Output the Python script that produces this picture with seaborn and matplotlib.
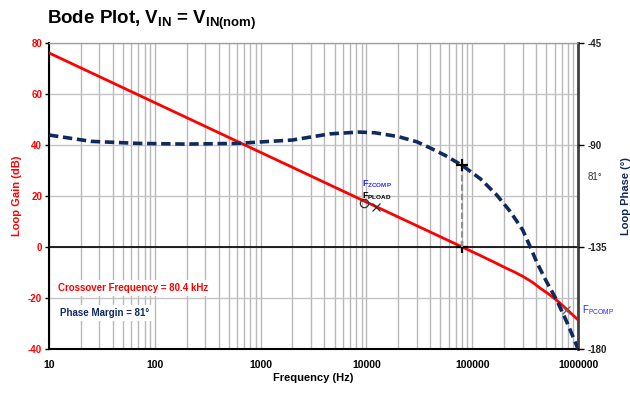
import matplotlib
matplotlib.use("Agg")
import matplotlib.pyplot as plt
import matplotlib.ticker as mticker
import numpy as np
import seaborn as sns

# values
gain_freq = [10, 100, 1000, 10000, 80400, 120000, 160000, 200000, 250000, 300000,
             370000, 440000, 530000, 630000, 800000, 1000000]
gain_db = [76.1, 56.6, 37.1, 17.6, 0.0, -3.4, -5.9, -7.9, -9.8, -11.5,
           -13.8, -16.2, -18.5, -20.9, -24.8, -28.6]

phase_freq = [10, 25, 70, 200, 600, 2000, 4500, 8500, 12000, 20000, 30000, 40000, 55000,
              80400, 120000, 170000, 230000, 300000, 350000, 410000, 500000, 630000, 800000, 1000000]
phase_deg = [-85.6, -88.4, -89.3, -89.6, -89.3, -87.8, -85.1, -84.3, -84.6, -86.3, -88.6, -91.3, -94.5,
             -99.0, -105.0, -112.0, -119.5, -127.5, -134.5, -142.0, -150.0, -158.5, -169.0, -180.0]

crossover_freq = 80400
crossover_phase = -99.0
phase_margin = 81

zcomp_freq, zcomp_gain = 9550, 17.4
pload_freq, pload_gain = 12300, 15.6
pcomp_freq, pcomp_gain = 770000, -24.7

x_ticks = [10, 100, 1000, 10000, 100000, 1000000]
x_labels = ['10', '100', '1000', '10000', '100000', '1000000']
gain_ticks = [-40, -20, 0, 20, 40, 60, 80]
phase_ticks = [-180, -135, -90, -45]

red = '#ff0000'
navy = '#102a5e'
blue = '#2b2bff'

sns.set_style('white')
plt.rcParams['font.family'] = ['Liberation Sans', 'DejaVu Sans']
plt.rcParams['text.color'] = 'black'
plt.rcParams['xtick.color'] = 'black'
plt.rcParams['ytick.color'] = 'black'

fig = plt.figure(figsize=(6.3, 3.93), dpi=100)
ax = fig.add_axes([0.0778, 0.112, 0.8397, 0.7786])

sns.lineplot(x=gain_freq, y=gain_db, ax=ax, color=red, lw=2, zorder=4)
ax.set_xscale('log')
ax.set_xlim(10, 1e6)
ax.set_ylim(-40, 80)

ax.set_yticks(gain_ticks)
ax.set_yticklabels([str(v) for v in gain_ticks], fontsize=7, fontweight='bold', color=red)
ax.tick_params(axis='y', length=3, width=1, color='black', direction='out', pad=2, left=True)

ax.grid(which='major', axis='y', color='#c4c4c4', lw=1)
ax.set_axisbelow(True)
ax.axhline(0, color='black', lw=1.2, zorder=2)

for side, col, w in [('left', 'black', 1.5), ('bottom', 'black', 1.5),
                     ('right', '#404040', 2), ('top', '#a0a0a0', 1)]:
    ax.spines[side].set_color(col)
    ax.spines[side].set_linewidth(w)
    ax.spines[side].set_visible(True)

ax.set_ylabel('Loop Gain (dB)', fontsize=8, fontweight='bold', color=red, labelpad=4)

# markers on the gain curve
ax.plot([zcomp_freq], [zcomp_gain], ls='none', marker='o', ms=6, mfc='none', mec='#333333', mew=0.9, zorder=6)
ax.plot([pload_freq], [pload_gain], ls='none', marker='x', ms=6, color='#333333', mew=0.9, zorder=6)
ax.plot([pcomp_freq], [pcomp_gain], ls='none', marker='x', ms=6, color='#666666', mew=0.9, zorder=6)
ax.plot([crossover_freq], [0], ls='none', marker='+', ms=8, color='black', mew=1.6, zorder=7)

ax.text(9000, 23.6, r'F$_\mathregular{ZCOMP}$', fontsize=6.5, fontweight='bold', color=blue, zorder=8)
ax.text(9000, 19.2, r'F$_\mathregular{PLOAD}$', fontsize=6.5, fontweight='bold', color='black', zorder=7)
ax.text(1.1e6, pcomp_gain, r'F$_\mathregular{PCOMP}$', fontsize=7, color=blue, va='center', clip_on=False)

ax.text(0.017, 0.199, f'Crossover Frequency = {crossover_freq / 1000:.1f} kHz', transform=ax.transAxes,
        fontsize=7, fontweight='bold', color=red, va='center',
        bbox=dict(facecolor='white', edgecolor='none', pad=2), zorder=8)
ax.text(0.021, 0.118, f'Phase Margin = {phase_margin}°', transform=ax.transAxes,
        fontsize=7, fontweight='bold', color=navy, va='center',
        bbox=dict(facecolor='white', edgecolor='none', pad=2), zorder=8)

# phase on the secondary axis
ax2 = ax.twinx()
sns.lineplot(x=phase_freq, y=phase_deg, ax=ax2, color=navy, lw=2.6)
ax2.lines[-1].set_dashes([2.6, 1.3])
ax2.set_ylim(-180, -45)
ax2.set_yticks(phase_ticks)
ax2.set_yticklabels([str(v) for v in phase_ticks], fontsize=7, fontweight='bold', color='#222222')
ax2.tick_params(axis='y', length=4, width=1, color='black', direction='out', pad=3, right=True)
ax2.grid(False)
for s in ax2.spines.values():
    s.set_visible(False)
ax2.set_ylabel('Loop Phase (°)', fontsize=8, fontweight='bold', color=navy, labelpad=10)
ax2.set_xlabel('')

ax2.plot([crossover_freq, crossover_freq], [-135, crossover_phase], color='#909090', lw=1.5,
         ls=(0, (3, 1.5)), zorder=3)
ax2.plot([crossover_freq], [crossover_phase], ls='none', marker='+', ms=8, color='black', mew=1.6, zorder=7)

# x axis set last so the twin axes do not reset it
ax.set_xscale('log')
ax.set_xlim(10, 1e6)
ax.xaxis.set_major_locator(mticker.FixedLocator(x_ticks))
ax.xaxis.set_major_formatter(mticker.FixedFormatter(x_labels))
ax.xaxis.set_minor_locator(mticker.LogLocator(base=10, subs=np.arange(2, 10)))
ax.xaxis.set_minor_formatter(mticker.NullFormatter())
for lab in ax.get_xticklabels():
    lab.set_fontsize(7.5)
    lab.set_fontweight('bold')
    lab.set_color('black')
ax.tick_params(axis='x', which='both', length=0, pad=8)
ax.grid(which='both', axis='x', color='#b8b8b8', lw=1)
ax.set_xlabel('')

fig.text(0.497, 0.038, 'Frequency (Hz)', fontsize=8, fontweight='bold', ha='center', va='center', color='black')
fig.text(0.933, 0.55, f'{phase_margin}°', fontsize=7, color='#333333', va='center')
fig.text(0.075, 0.948, r'Bode Plot, V$_\mathregular{IN}$ = V$_\mathregular{IN(nom)}$',
         fontsize=13.5, fontweight='bold', va='center', color='black')

fig.savefig('out.png', dpi=100)
